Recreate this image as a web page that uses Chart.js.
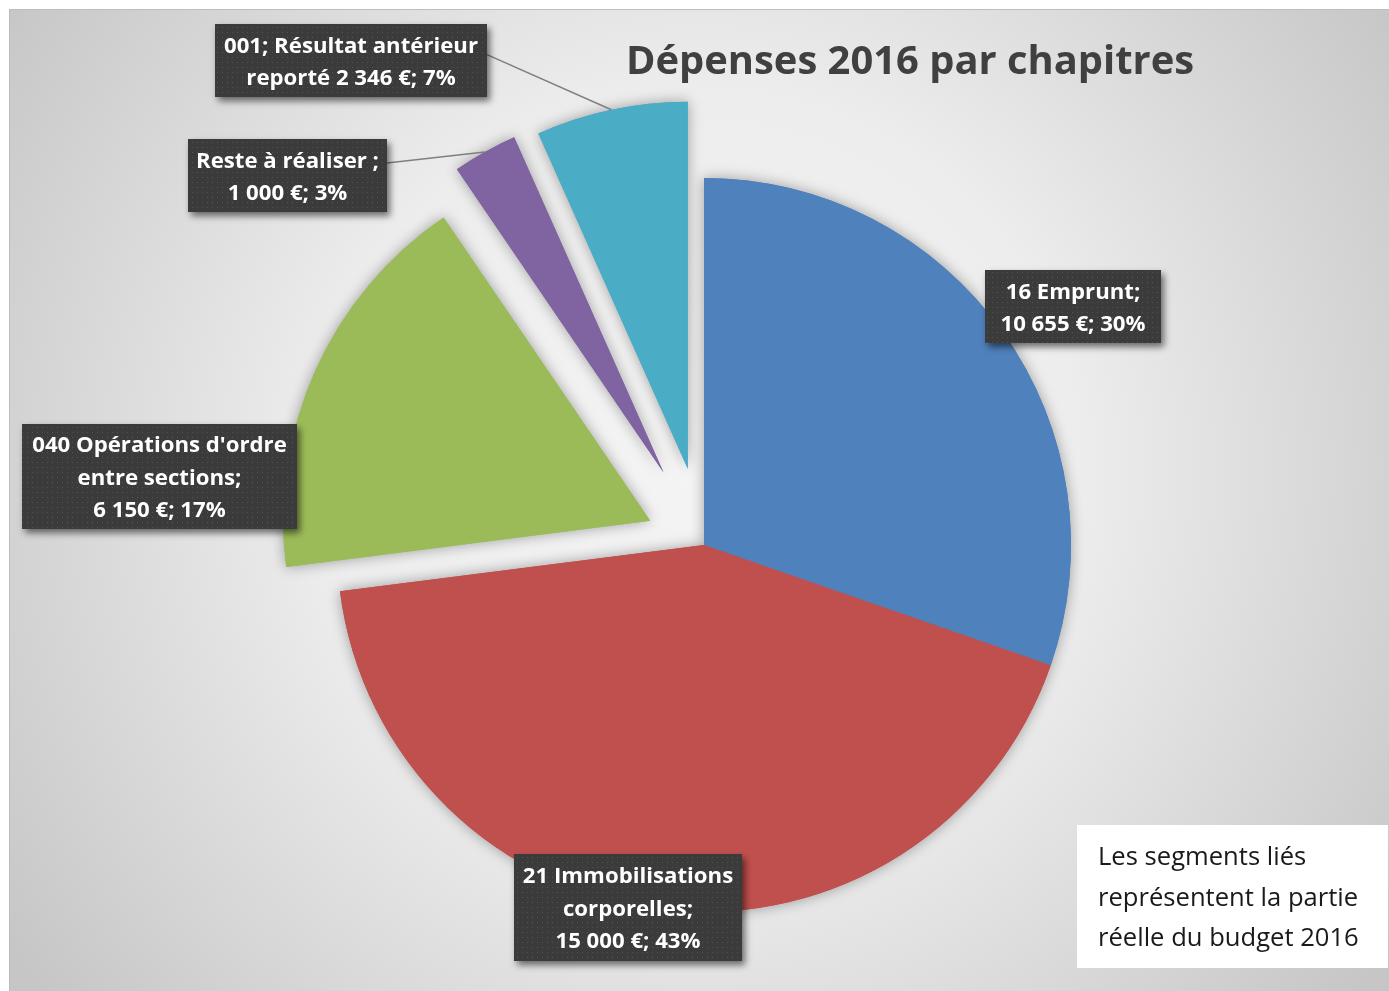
<!DOCTYPE html>
<html>
<head>
<meta charset="utf-8">
<script src="https://cdn.jsdelivr.net/npm/chart.js@4.4.1/dist/chart.umd.min.js"></script>
<style>
  html, body { margin: 0; padding: 0; background: #fff; overflow: hidden; }
  canvas { display: block; }
</style>
</head>
<body>
<canvas id="pieChart" width="1389" height="991"></canvas>
<script>
// data
var categories = ["16 Emprunt", "21 Immobilisations corporelles", "040 Opérations d'ordre entre sections", "Reste à réaliser", "001; Résultat antérieur reporté"];
var values = [10655, 15000, 6150, 1000, 2346];
var colors = ["#4F81BD", "#C0504D", "#9BBB59", "#8064A2", "#4BACC6"];
// how the label text is broken on lines ({v} = amount, {p} = percent)
var labelLines = [
  ["16 Emprunt;", "{v}; {p}"],
  ["21 Immobilisations", "corporelles;", "{v}; {p}"],
  ["040 Opérations d'ordre", "entre sections;", "{v}; {p}"],
  ["Reste à réaliser ;", "{v}; {p}"],
  ["001; Résultat antérieur", "reporté {v}; {p}"]
];
var title = "Dépenses 2016 par chapitres";
var note = ["Les segments liés", "représentent la partie", "réelle du budget 2016"];

// layout
var explode = [0, 0, 59, 83, 78];
var labelBox = [[985, 270, 176, 73], [514, 854, 228, 107], [22, 424, 275, 105], [188, 139, 199, 73], [215, 24, 272, 73]];
var leader = [false, false, false, 0.33, 0.42];

var W = 1389, H = 991;
var total = values.reduce(function (a, b) { return a + b; }, 0);

function fmt(v) {
  return String(v).replace(/\B(?=(\d{3})+(?!\d))/g, " ") + " €";
}

// font size so that a text gets a given width (Calibri is not installed)
function fitFont(ctx, text, weight, width) {
  ctx.font = weight + " 40px 'Open Sans'";
  var size = 40 * width / ctx.measureText(text).width;
  return weight + " " + size.toFixed(1) + "px 'Open Sans'";
}

// dotted texture for the label boxes
var tile = document.createElement("canvas");
tile.width = 5; tile.height = 5;
var tctx = tile.getContext("2d");
tctx.fillStyle = "#3b3b3b";
tctx.fillRect(0, 0, 5, 5);
tctx.fillStyle = "#535353";
tctx.fillRect(2, 2, 1, 1);

var bgPlugin = {
  id: "bg",
  beforeDraw: function (chart) {
    var ctx = chart.ctx;
    ctx.save();
    ctx.fillStyle = "#ffffff";
    ctx.fillRect(0, 0, W, H);
    var g = ctx.createRadialGradient(700, 470, 0, 700, 470, 840);
    g.addColorStop(0, "#f4f4f4");
    g.addColorStop(0.45, "#ededed");
    g.addColorStop(1, "#c6c6c6");
    ctx.fillStyle = g;
    ctx.fillRect(9, 9, W - 9, H - 9);
    ctx.strokeStyle = "#bdbdbd";
    ctx.lineWidth = 1;
    ctx.strokeRect(9.5, 9.5, W, H);
    // title
    ctx.fillStyle = "#404040";
    ctx.font = fitFont(ctx, title, "bold", 569);
    ctx.textAlign = "center";
    ctx.textBaseline = "middle";
    ctx.fillText(title, 910, 63);
    ctx.restore();
  }
};

var explodePlugin = {
  id: "explode",
  beforeDatasetDraw: function (chart, args) {
    var ctx = chart.ctx;
    var arcs = args.meta.data;
    // shadows first, then the slices on top
    for (var pass = 0; pass < 2; pass++) {
      arcs.forEach(function (arc, i) {
        var mid = (arc.startAngle + arc.endAngle) / 2;
        ctx.save();
        ctx.translate(Math.cos(mid) * explode[i], Math.sin(mid) * explode[i]);
        if (pass == 0) {
          ctx.shadowColor = "rgba(0,0,0,0.35)";
          ctx.shadowBlur = 14;
        }
        arc.draw(ctx, chart.chartArea);
        ctx.restore();
      });
    }
    return false;
  }
};

var labelPlugin = {
  id: "labels",
  afterDatasetsDraw: function (chart) {
    var ctx = chart.ctx;
    var arcs = chart.getDatasetMeta(0).data;
    var pattern = ctx.createPattern(tile, "repeat");
    var labelFont = fitFont(ctx, "001; Résultat antérieur", "bold", 254);
    arcs.forEach(function (arc, i) {
      var b = labelBox[i];
      // leader line to the middle of the slice edge
      if (leader[i] !== false) {
        var mid = (arc.startAngle + arc.endAngle) / 2;
        var cx = arc.x + Math.cos(mid) * explode[i];
        var cy = arc.y + Math.sin(mid) * explode[i];
        var ex = cx + Math.cos(mid) * arc.outerRadius;
        var ey = cy + Math.sin(mid) * arc.outerRadius;
        ctx.save();
        ctx.strokeStyle = "#7f7f7f";
        ctx.lineWidth = 1.5;
        ctx.beginPath();
        ctx.moveTo(b[0] + b[2], b[1] + b[3] * leader[i]);
        ctx.lineTo(ex, ey);
        ctx.stroke();
        ctx.restore();
      }
      ctx.save();
      ctx.shadowColor = "rgba(0,0,0,0.55)";
      ctx.shadowBlur = 7;
      ctx.shadowOffsetX = 3;
      ctx.shadowOffsetY = 4;
      ctx.fillStyle = pattern;
      ctx.fillRect(b[0], b[1], b[2], b[3]);
      ctx.restore();

      var pct = Math.round(values[i] / total * 100) + "%";
      var lines = labelLines[i].map(function (s) {
        return s.replace("{v}", fmt(values[i])).replace("{p}", pct);
      });
      ctx.save();
      ctx.fillStyle = "#ffffff";
      ctx.font = labelFont;
      ctx.textAlign = "center";
      ctx.textBaseline = "middle";
      var lh = 32.5;
      var y0 = b[1] + b[3] / 2 - (lines.length - 1) * lh / 2 + 2;
      lines.forEach(function (s, k) {
        ctx.fillText(s, b[0] + b[2] / 2, y0 + k * lh);
      });
      ctx.restore();
    });

    // note box
    ctx.save();
    ctx.fillStyle = "#ffffff";
    ctx.fillRect(1077, 825, 311, 143);
    ctx.fillStyle = "#1a1a1a";
    ctx.font = fitFont(ctx, note[1], "normal", 260);
    ctx.textAlign = "left";
    ctx.textBaseline = "middle";
    note.forEach(function (s, k) {
      ctx.fillText(s, 1098, 858 + k * 40.5);
    });
    ctx.restore();
  }
};

var ctxP = document.getElementById("pieChart").getContext("2d");
var myPieChart = new Chart(ctxP, {
  type: "pie",
  data: {
    labels: categories,
    datasets: [{
      data: values,
      backgroundColor: colors,
      borderWidth: 0
    }]
  },
  options: {
    responsive: false,
    animation: false,
    radius: 367,
    layout: { padding: { left: 19, right: 0, top: 99, bottom: 0 } },
    plugins: {
      legend: { display: false },
      tooltip: { enabled: false }
    }
  },
  plugins: [bgPlugin, explodePlugin, labelPlugin]
});
</script>
</body>
</html>
